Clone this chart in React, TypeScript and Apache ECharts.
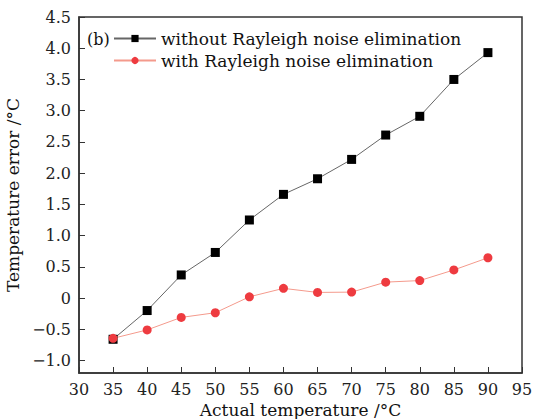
import React, { useEffect, useRef } from "react";
import * as echarts from "echarts";

const temps = [35, 40, 45, 50, 55, 60, 65, 70, 75, 80, 85, 90];
const withoutElim = [-0.66, -0.2, 0.37, 0.73, 1.25, 1.66, 1.91, 2.22, 2.61, 2.91, 3.5, 3.93];
const withElim = [-0.645, -0.51, -0.31, -0.235, 0.02, 0.155, 0.09, 0.095, 0.255, 0.28, 0.45, 0.645];
const yTicks = [-1.0, -0.5, 0, 0.5, 1.0, 1.5, 2.0, 2.5, 3.0, 3.5, 4.0, 4.5];
const seriesNames = ["without Rayleigh noise elimination", "with Rayleigh noise elimination"];

const FONT = "DejaVu Serif";

export default function App() {
  const ref = useRef<HTMLDivElement>(null);
  useEffect(() => {
    const chart = echarts.init(ref.current!, null, { renderer: "svg" });
    chart.setOption({
      animation: false,
      backgroundColor: "#fff",
      textStyle: { fontFamily: FONT },
      grid: {
        left: 79, right: 18, top: 17, bottom: 46,
        outerBoundsMode: "none",
        containLabel: false,
        show: true, borderColor: "#333", borderWidth: 1.5,
      },
      legend: {
        orient: "vertical",
        left: 113, top: 30, padding: 0,
        itemWidth: 42, itemHeight: 9, itemGap: 5,
        textStyle: { fontFamily: FONT, fontSize: 17, color: "#111", padding: [0, 0, 0, 0] },
        data: seriesNames,
      },
      graphic: [
        { type: "text", left: 87, top: 31, style: { text: "(b)", font: `16px "${FONT}"`, fill: "#111" } },
      ],
      xAxis: {
        type: "value", min: 30, max: 95, interval: 5,
        name: "Actual temperature /°C", nameLocation: "middle", nameGap: 26,
        nameTextStyle: { fontFamily: FONT, fontSize: 17, color: "#111" },
        axisLine: { onZero: false, lineStyle: { color: "#333", width: 1.5 } },
        axisTick: { inside: true, length: 6, lineStyle: { color: "#333" } },
        axisLabel: { fontFamily: FONT, fontSize: 16, color: "#222", margin: 8 },
        splitLine: { show: false },
      },
      yAxis: {
        type: "value", min: -1.2, max: 4.5,
        name: "Temperature error /°C", nameLocation: "middle", nameGap: 47,
        nameTextStyle: { fontFamily: FONT, fontSize: 17, color: "#111" },
        axisLine: { show: true, onZero: false, lineStyle: { color: "#333", width: 1.5 } },
        axisTick: { show: true, inside: true, length: 6, customValues: yTicks, lineStyle: { color: "#333" } },
        axisLabel: {
          fontFamily: FONT, fontSize: 16, color: "#222", margin: 8,
          customValues: yTicks,
          formatter: (v: number) => (Math.abs(v) < 1e-9 ? "0" : v.toFixed(1).replace("-", "\u2212")),
        },
        splitLine: { show: false },
      },
      series: [
        {
          name: seriesNames[0], type: "line",
          data: temps.map((t, i) => [t, withoutElim[i]]),
          symbol: "rect", symbolSize: 9,
          itemStyle: { color: "#000" },
          lineStyle: { color: "#666", width: 1 },
        },
        {
          name: seriesNames[1], type: "line",
          data: temps.map((t, i) => [t, withElim[i]]),
          symbol: "circle", symbolSize: 9,
          itemStyle: { color: "#ee3b40" },
          lineStyle: { color: "#f49a8c", width: 1 },
          z: 3,
        },
      ],
    });
    return () => chart.dispose();
  }, []);
  return <div ref={ref} style={{ width: 540, height: 419, position: "absolute", left: 0, top: 0 }} />;
}
